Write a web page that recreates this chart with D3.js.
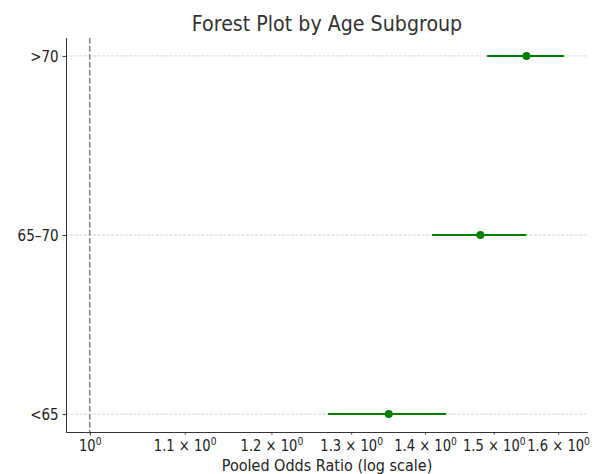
<!DOCTYPE html>
<html>
<head>
<meta charset="utf-8">
<script src="https://cdn.jsdelivr.net/npm/d3@7"></script>
<style>
  body { margin: 0; background: #fff; }
  svg text { font-family: "DejaVu Sans", sans-serif; }
</style>
</head>
<body>
<svg id="chart"></svg>
<script>
var groups = ['<65', '65\u201370', '>70'];
var oddsRatio = [1.35, 1.48, 1.55];
var ciLow = [1.27, 1.41, 1.49];
var ciHigh = [1.43, 1.55, 1.61];
var xTicks = [1.0, 1.1, 1.2, 1.3, 1.4, 1.5, 1.6];
var xTickLabels = ['10', '1.1 \u00d7 10', '1.2 \u00d7 10', '1.3 \u00d7 10', '1.4 \u00d7 10', '1.5 \u00d7 10', '1.6 \u00d7 10'];

var width = 599;
var height = 474;
var borders = { top: 38, right: 11, bottom: 42, left: 66 };

var svg = d3.select('#chart').attr('width', width).attr('height', height);

// log x domain, padded 5% each side like matplotlib
var lo = Math.log(1.0), hi = Math.log(d3.max(ciHigh));
var pad = (hi - lo) * 0.05;
var xScale = d3.scaleLog()
  .domain([Math.exp(lo - pad), Math.exp(hi + pad)])
  .range([borders.left, width - borders.right]);

var yScale = d3.scaleLinear()
  .domain([-0.1, groups.length - 1 + 0.1])
  .range([height - borders.bottom, borders.top]);

// horizontal grid
svg.append('g').selectAll('line')
  .data(groups)
  .enter().append('line')
  .attr('x1', borders.left).attr('x2', width - borders.right)
  .attr('y1', function(d, i) { return yScale(i); })
  .attr('y2', function(d, i) { return yScale(i); })
  .attr('stroke', '#c8c8c8').attr('stroke-width', 0.8)
  .attr('stroke-dasharray', '3,1.5');

// reference line at OR = 1
svg.append('line')
  .attr('x1', xScale(1)).attr('x2', xScale(1))
  .attr('y1', borders.top).attr('y2', height - borders.bottom)
  .attr('stroke', '#808080').attr('stroke-width', 1.5)
  .attr('stroke-dasharray', '5.5,2.5');

// CI lines
svg.append('g').selectAll('line')
  .data(groups)
  .enter().append('line')
  .attr('x1', function(d, i) { return xScale(ciLow[i]); })
  .attr('x2', function(d, i) { return xScale(ciHigh[i]); })
  .attr('y1', function(d, i) { return yScale(i); })
  .attr('y2', function(d, i) { return yScale(i); })
  .attr('stroke', 'green').attr('stroke-width', 2);

// point estimates
svg.append('g').selectAll('circle')
  .data(groups)
  .enter().append('circle')
  .attr('cx', function(d, i) { return xScale(oddsRatio[i]); })
  .attr('cy', function(d, i) { return yScale(i); })
  .attr('r', 4)
  .attr('fill', 'green');

// y axis
var yAxis = svg.append('g')
  .attr('transform', 'translate(' + borders.left + ',0)')
  .call(d3.axisLeft(yScale).tickValues([0, 1, 2]).tickFormat(function(d) { return groups[d]; }).tickSize(3.5).tickPadding(4));
yAxis.select('.domain').attr('d', 'M0.5,' + borders.top + 'V' + (height - borders.bottom)).attr('stroke', '#333');
yAxis.selectAll('.tick line').attr('stroke', '#333');
yAxis.selectAll('.tick text')
  .attr('x', 0)
  .attr('transform', 'translate(-7.5,0) scale(0.84,1)')
  .attr('font-size', '16px').attr('fill', '#222');

// x axis
var xAxis = svg.append('g')
  .attr('transform', 'translate(0,' + (height - borders.bottom) + ')')
  .call(d3.axisBottom(xScale).tickValues(xTicks).tickFormat('').tickSize(2.5));
xAxis.select('.domain').attr('d', 'M' + borders.left + ',0.5H' + (width - borders.right)).attr('stroke', '#333');
xAxis.selectAll('.tick line').attr('stroke', '#333').attr('y2', function(d) { return d === 1 ? 3.5 : 2.5; });

xAxis.selectAll('.tick').append('text')
  .attr('y', 19)
  .attr('text-anchor', 'middle')
  .attr('transform', 'scale(0.875,1)')
  .attr('font-size', '15px')
  .attr('fill', '#222')
  .each(function(d, i) {
    var t = d3.select(this);
    t.append('tspan').text(xTickLabels[i]);
    t.append('tspan').attr('dy', -6).attr('font-size', '10.5px').text('0');
  });

// titles
svg.append('text')
  .text('Forest Plot by Age Subgroup')
  .attr('text-anchor', 'middle')
  .attr('transform', 'translate(' + ((borders.left + width - borders.right) / 2) + ',30.5) scale(0.93,1)')
  .attr('font-size', '20.5px')
  .attr('fill', '#333');

svg.append('text')
  .text('Pooled Odds Ratio (log scale)')
  .attr('text-anchor', 'middle')
  .attr('transform', 'translate(' + ((borders.left + width - borders.right) / 2) + ',471) scale(0.93,1)')
  .attr('font-size', '15.5px')
  .attr('fill', '#222');
</script>
</body>
</html>
